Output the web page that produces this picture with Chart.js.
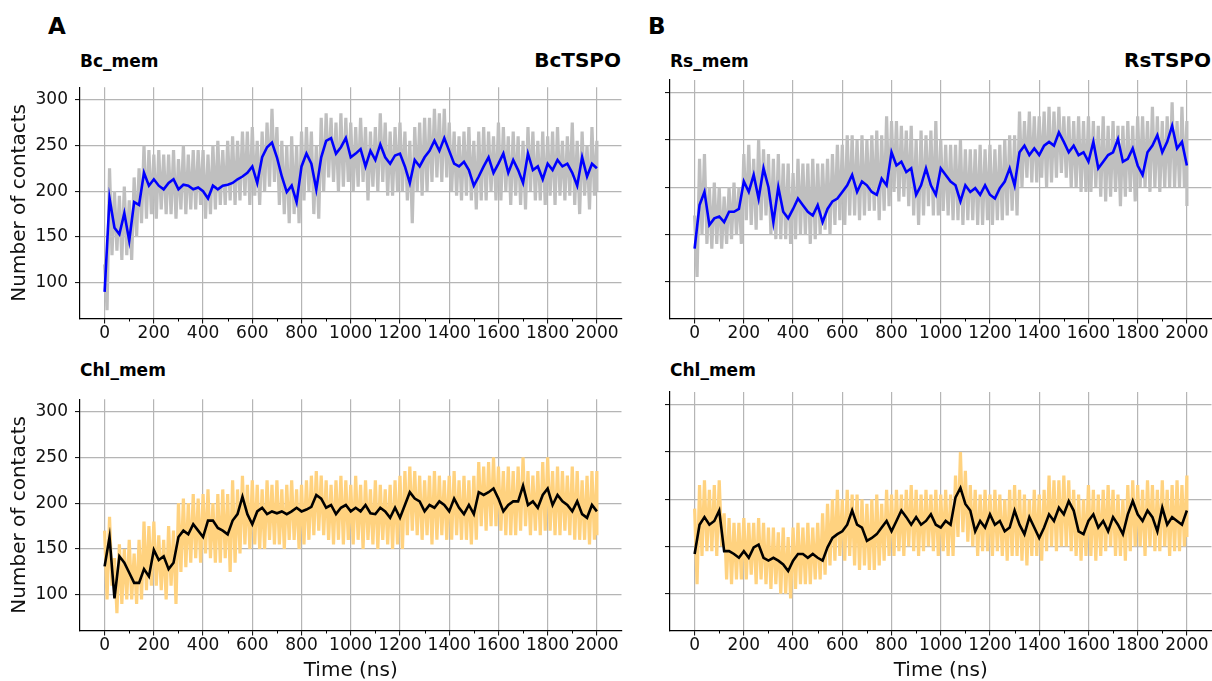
<!DOCTYPE html>
<html>
<head>
<meta charset="utf-8">
<script src="https://cdn.jsdelivr.net/npm/chart.js@4.4.1/dist/chart.umd.min.js"></script>
<style>
  html, body { margin:0; padding:0; background:#fff; }
  body { width:1212px; height:681px; position:relative; overflow:hidden; font-family:'DejaVu Sans', sans-serif; color:#000; }
  .lbl { position:absolute; font-weight:bold; white-space:nowrap; }
  .panel { position:absolute; }
  .sub { font-size:17px; line-height:17px; }
  .prot { font-size:20px; line-height:20px; }
  .letter { font-size:23px; line-height:23px; }
</style>
</head>
<body>
<div class="lbl letter" style="left:48px; top:15px;">A</div>
<div class="lbl letter" style="left:648px; top:15px;">B</div>
<div class="lbl sub" style="left:80px; top:53px;">Bc_mem</div>
<div class="lbl prot" style="right:591px; top:50px;">BcTSPO</div>
<div class="lbl sub" style="left:670px; top:53px;">Rs_mem</div>
<div class="lbl prot" style="right:1px; top:50px;">RsTSPO</div>
<div class="lbl sub" style="left:80px; top:362px;">Chl_mem</div>
<div class="lbl sub" style="left:670px; top:362px;">Chl_mem</div>

<canvas id="cA1" class="panel" width="630" height="282" style="left:0px; top:70px;"></canvas>
<canvas id="cB1" class="panel" width="622" height="282" style="left:590px; top:70px;"></canvas>
<canvas id="cA2" class="panel" width="630" height="299" style="left:0px; top:382px;"></canvas>
<canvas id="cB2" class="panel" width="622" height="299" style="left:590px; top:382px;"></canvas>

<script>
// ---- data (time in ns, number of contacts) ----
const timeNs = [0,20,40,60,80,100,120,140,160,180,
200,220,240,260,280,300,320,340,360,380,
400,420,440,460,480,500,520,540,560,580,
600,620,640,660,680,700,720,740,760,780,
800,820,840,860,880,900,920,940,960,980,
1000,1020,1040,1060,1080,1100,1120,1140,1160,1180,
1200,1220,1240,1260,1280,1300,1320,1340,1360,1380,
1400,1420,1440,1460,1480,1500,1520,1540,1560,1580,
1600,1620,1640,1660,1680,1700,1720,1740,1760,1780,
1800,1820,1840,1860,1880,1900,1920,1940,1960,1980,
2000];

const xTicks = [0,200,400,600,800,1000,1200,1400,1600,1800,2000];
const xMinorTicks = [100,300,500,700,900,1100,1300,1500,1700,1900];
const yTicks = [100,150,200,250,300];
const X_MIN = -100, X_MAX = 2100, Y_MIN = 61, Y_MAX = 313.5;

// BcTSPO / Bc_mem
const bcSmooth = [90,192,160,153,176,146,188,185,220,206,
213,206,202,209,213,202,207,206,202,204,
200,192,206,202,206,207,209,213,216,220,
227,209,237,248,253,237,216,199,206,188,
227,241,230,202,237,255,258,241,248,258,
237,241,246,227,244,234,251,237,230,239,
241,227,209,234,227,237,244,255,244,258,
244,230,227,232,223,206,216,227,237,220,
230,241,220,234,223,209,241,223,227,213,
230,223,234,227,230,220,206,237,216,230,
225];
const bcRawHigh = [120,225,200,195,205,190,215,225,250,245,
240,245,240,240,245,235,250,240,245,245,
245,240,250,255,245,255,260,255,265,265,
270,255,265,275,290,270,255,250,260,250,
265,270,265,250,280,285,280,275,285,280,
275,270,280,270,265,270,285,275,265,270,
275,265,255,270,275,280,280,290,285,290,
275,265,260,265,270,255,265,270,265,260,
275,270,260,265,260,255,270,265,255,265,
260,265,270,255,260,275,255,265,250,270,
255];
const bcRawLow = [70,130,135,125,130,125,150,165,170,175,
170,180,175,175,170,180,175,180,180,185,
170,175,180,185,185,190,185,190,195,185,
195,185,200,205,210,185,175,165,175,165,
190,200,175,170,200,215,210,200,205,210,
200,205,210,190,205,200,210,195,195,200,
200,190,165,200,195,200,210,215,210,215,
200,195,190,195,190,180,190,190,200,190,
190,200,185,195,185,180,200,190,190,185,
195,185,195,190,195,185,175,195,180,195,
200];

// RsTSPO / Rs_mem
const rsSmooth = [135,181,195,160,167,169,163,174,174,177,
206,195,213,188,220,200,163,200,174,167,
177,188,181,174,170,181,163,177,185,188,
195,202,213,195,206,202,195,192,209,202,
237,223,227,216,220,192,202,220,202,192,
220,213,206,202,185,202,195,199,192,202,
192,188,199,206,220,202,237,244,234,241,
234,244,248,244,258,248,237,244,234,237,
227,248,220,227,234,237,251,227,230,241,
223,213,237,244,255,237,248,265,241,248,
223];
const rsRawHigh = [170,230,235,200,205,200,190,200,205,200,
235,245,230,250,240,235,230,235,225,225,
215,230,225,225,230,225,225,230,235,245,
245,255,255,250,255,250,255,260,255,275,
270,270,265,260,265,250,260,255,260,270,
250,245,245,245,250,240,240,240,245,240,
245,240,245,250,255,255,280,270,280,275,
275,280,285,280,285,275,275,270,275,270,
275,270,265,275,265,270,265,265,270,265,
275,275,270,285,275,270,275,290,270,285,
270];
const rsRawLow = [105,150,140,135,140,135,140,145,150,140,
165,160,155,165,170,150,145,145,145,140,
145,150,150,140,145,150,155,150,160,165,
160,170,170,165,170,175,175,165,175,180,
195,185,190,180,170,160,170,180,170,170,
175,170,165,165,160,165,165,160,160,165,
160,165,165,170,175,170,200,210,205,205,
210,200,205,210,215,210,200,200,195,195,
195,200,190,185,190,195,180,190,195,185,
200,200,195,200,195,200,200,200,200,200,
180];

// Chl_mem with BcTSPO
const chlBcSmooth = [131,163,96,142,135,124,113,113,128,120,
149,138,142,128,135,163,170,166,177,170,
163,181,181,173,170,166,181,188,207,188,
177,191,195,188,191,189,191,188,191,195,
191,193,196,209,205,195,198,188,195,198,
191,195,191,198,189,188,195,191,184,195,
184,198,212,205,202,191,198,195,202,198,
191,205,195,188,198,188,212,209,212,216,
205,191,198,202,202,219,198,202,195,209,
216,198,209,202,198,191,202,188,184,198,
191];
const chlBcRawHigh = [170,185,140,155,150,160,145,160,180,175,
180,165,160,175,170,200,205,200,210,205,
210,215,200,210,215,210,225,215,230,220,
225,220,215,225,220,225,215,220,225,215,
220,225,230,235,230,225,220,225,230,225,
220,230,220,225,215,225,220,215,220,225,
230,235,240,235,230,225,230,235,230,225,
230,235,225,230,225,230,245,240,245,250,
240,235,240,235,240,250,235,230,235,245,
250,235,240,235,230,240,235,225,230,235,
235];
const chlBcRawLow = [95,110,80,90,95,95,90,95,105,110,
110,105,95,110,90,125,130,135,140,135,
145,140,135,135,140,125,135,145,155,150,
155,150,150,160,155,155,150,160,160,150,
155,160,165,170,165,160,155,160,155,160,
155,160,150,160,155,150,160,155,150,155,
150,165,170,165,160,165,155,160,165,160,
160,165,160,160,155,160,175,170,175,175,
170,165,165,165,170,175,165,170,165,170,
170,165,165,170,165,160,160,160,155,160,
165];

// Chl_mem with RsTSPO
const chlRsSmooth = [142,173,181,173,177,188,145,145,142,138,
145,138,149,152,138,135,138,135,131,124,
135,142,142,138,142,138,135,149,159,163,
166,173,188,173,170,156,159,163,170,177,
166,177,188,181,173,181,173,177,184,173,
170,177,173,202,212,195,188,166,177,170,
184,173,177,166,170,188,173,163,181,170,
159,170,184,177,191,184,198,188,166,163,
177,184,170,177,166,181,173,163,184,198,
184,177,188,181,166,191,173,181,177,173,
188];
const chlRsRawHigh = [190,215,220,210,215,220,185,180,175,175,
180,175,175,180,175,170,170,165,170,160,
170,175,170,175,170,175,185,195,200,210,
200,210,205,205,200,195,200,205,195,210,
205,210,205,210,215,210,205,210,205,210,
205,210,205,225,250,230,215,210,205,210,
205,210,205,200,210,215,210,205,200,210,
205,210,225,220,220,225,220,210,205,200,
215,210,205,210,215,210,205,200,215,220,
215,210,220,215,210,220,210,215,220,215,
225];
const chlRsRawLow = [110,140,145,145,140,150,115,110,115,115,
115,120,110,115,110,105,110,100,100,95,
105,110,110,110,115,115,120,130,135,140,
135,140,130,125,130,125,125,130,135,140,
140,145,140,150,145,140,145,150,145,140,
145,140,140,160,165,155,150,140,145,145,
140,145,140,135,140,140,135,130,140,140,
135,145,150,145,150,150,145,140,135,140,
140,135,140,145,150,140,140,135,145,150,
150,140,150,145,145,150,140,145,145,150,
160];

// ---- colours ----
const BLUE = '#0000ff', BLACK = '#000000', GRAY = '#bfbfbf', ORANGE = '#ffd27f';
const GRID = '#b5b5b5';

Chart.defaults.font.family = "'DejaVu Sans', sans-serif";
Chart.defaults.color = '#111';

function smoothPoints(vals) {
  return timeNs.map((t, i) => ({ x: t, y: vals[i] }));
}
// raw trajectory: alternate between the read high and low excursions
function rawPoints(high, low) {
  const pts = [];
  for (let i = 0; i < timeNs.length; i++) {
    pts.push({ x: timeNs[i], y: high[i] });
    if (i < timeNs.length - 1) {
      pts.push({ x: (timeNs[i] + timeNs[i + 1]) / 2, y: low[i] });
    } else {
      pts.push({ x: timeNs[i], y: low[i] });
    }
  }
  return pts;
}

const minorTickPlugin = {
  id: 'minorTicks',
  afterDraw(chart) {
    const xs = chart.scales.x;
    const ctx = chart.ctx;
    ctx.save();
    ctx.strokeStyle = '#000';
    ctx.lineWidth = 1;
    xMinorTicks.forEach(v => {
      const px = Math.round(xs.getPixelForValue(v)) + 0.5;
      ctx.beginPath();
      ctx.moveTo(px, xs.top);
      ctx.lineTo(px, xs.top + 3);
      ctx.stroke();
    });
    ctx.restore();
  }
};

function makePanel(id, smooth, high, low, lineColor, rawColor, opt) {
  new Chart(document.getElementById(id), {
    type: 'line',
    data: {
      datasets: [
        { data: smoothPoints(smooth), borderColor: lineColor, borderWidth: 2.6, pointRadius: 0, tension: 0, order: 0, fill: false, borderJoinStyle: 'miter' },
        { data: rawPoints(high, low), borderColor: rawColor, borderWidth: 3.2, pointRadius: 0, tension: 0, order: 1, fill: false, borderJoinStyle: 'miter' }
      ]
    },
    options: {
      responsive: false,
      animation: false,
      events: [],
      layout: { padding: { top: 10, right: opt.padRight, bottom: 0, left: 0 } },
      plugins: { legend: { display: false }, tooltip: { enabled: false }, title: { display: false } },
      scales: {
        x: {
          type: 'linear', min: X_MIN, max: X_MAX,
          afterBuildTicks: s => { s.ticks = xTicks.map(v => ({ value: v })); },
          afterFit: s => { s.height = opt.xHeight; },
          grid: { color: GRID, lineWidth: 1.2, drawTicks: true, tickLength: 5, tickColor: '#000', tickWidth: 1 },
          border: { display: true, color: '#000', width: 1.2 },
          ticks: { autoSkip: false, maxRotation: 0, minRotation: 0, padding: 0, color: '#111', font: { size: 17 }, callback: v => String(v) },
          title: { display: opt.xTitle, text: 'Time (ns)', color: '#111', font: { size: 20, lineHeight: 1 }, padding: { top: 0, bottom: 0 } }
        },
        y: {
          type: 'linear', min: Y_MIN, max: Y_MAX,
          afterBuildTicks: s => { s.ticks = yTicks.map(v => ({ value: v })); },
          afterFit: s => { s.width = 80; },
          grid: { color: GRID, lineWidth: 1.2, drawTicks: true, tickLength: 5, tickColor: '#000', tickWidth: 1 },
          border: { display: true, color: '#000', width: 1.2 },
          ticks: { display: opt.yLabels, padding: 7, color: '#111', font: { size: 17 }, callback: v => String(v) },
          title: { display: opt.yTitle, text: 'Number of contacts', color: '#111', font: { size: 20, lineHeight: 1 }, padding: { top: 10, bottom: 0 } }
        }
      }
    },
    plugins: [minorTickPlugin]
  });
}

makePanel('cA1', bcSmooth, bcRawHigh, bcRawLow, BLUE, GRAY, { padRight: 8.5, xHeight: 33.5, xTitle: false, yLabels: true, yTitle: true });
makePanel('cB1', rsSmooth, rsRawHigh, rsRawLow, BLUE, GRAY, { padRight: 0.5, xHeight: 33.5, xTitle: false, yLabels: false, yTitle: false });
makePanel('cA2', chlBcSmooth, chlBcRawHigh, chlBcRawLow, BLACK, ORANGE, { padRight: 8.5, xHeight: 50.5, xTitle: true, yLabels: true, yTitle: true });
makePanel('cB2', chlRsSmooth, chlRsRawHigh, chlRsRawLow, BLACK, ORANGE, { padRight: 0.5, xHeight: 50.5, xTitle: true, yLabels: false, yTitle: false });
</script>
</body>
</html>
